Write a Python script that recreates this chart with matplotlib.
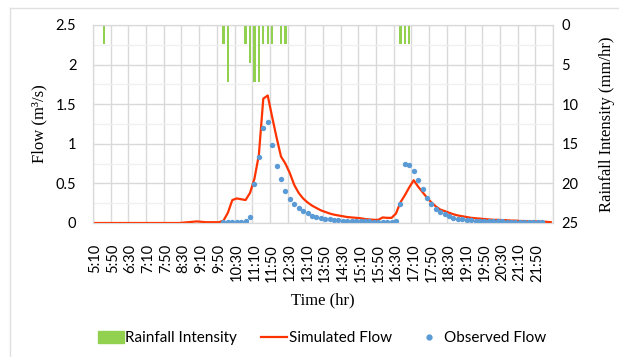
import numpy as np
import matplotlib
matplotlib.use("Agg")
import matplotlib.pyplot as plt
from matplotlib.lines import Line2D
from matplotlib.patches import Patch

# DATA (10 min steps, 5:10 -> 22:20)
tick_labels = ['5:10', '5:50', '6:30', '7:10', '7:50', '8:30', '9:10', '9:50',
               '10:30', '11:10', '11:50', '12:30', '13:10', '13:50', '14:30',
               '15:10', '15:50', '16:30', '17:10', '17:50', '18:30', '19:10',
               '19:50', '20:30', '21:10', '21:50']

simulated = [0] * 20 + [
    0.005, 0.01, 0.015, 0.02, 0.015, 0.01, 0.01, 0.01, 0.01,
    0.03, 0.13, 0.29, 0.31, 0.30, 0.29, 0.38, 0.56, 0.86, 1.57, 1.61,
    1.34, 1.08, 0.84, 0.75, 0.63, 0.48, 0.38, 0.31, 0.26, 0.22,
    0.19, 0.16, 0.14, 0.12, 0.105, 0.095, 0.085, 0.075, 0.07, 0.065,
    0.06, 0.05, 0.045, 0.04, 0.04, 0.07, 0.065, 0.065, 0.12, 0.26,
    0.35, 0.45, 0.54, 0.46, 0.39, 0.32, 0.26, 0.21, 0.17, 0.15,
    0.13, 0.11, 0.095, 0.085, 0.075, 0.065, 0.06, 0.055, 0.05, 0.045,
    0.04, 0.04, 0.035, 0.035, 0.03, 0.03, 0.025, 0.025, 0.02, 0.02,
    0.02, 0.015, 0.015, 0.01]

observed = [None] * 29 + [
    0.01, 0.01, 0.01, 0.015, 0.015, 0.02, 0.08, 0.49, 0.83, 1.20, 1.28,
    0.99, 0.72, 0.55, 0.41, 0.30, 0.24, 0.19, 0.15, 0.12, 0.09,
    0.07, 0.06, 0.05, 0.045, 0.04, 0.035, 0.03, 0.03, 0.025, 0.025,
    0.02, 0.02, 0.02, 0.015, 0.015, 0.01, 0.01, 0.015, 0.03, 0.24,
    0.745, 0.73, 0.66, 0.54, 0.43, 0.32, 0.24, 0.18, 0.14, 0.11,
    0.085, 0.065, 0.055, 0.045, 0.04, 0.035, 0.03, 0.03, 0.025, 0.025,
    0.02, 0.02, 0.02, 0.015, 0.015, 0.015, 0.01, 0.01, 0.01, 0.01,
    0.01, 0.01] + [None] * 2

rainfall = [0] * 104
for idx, val in [(2, 2.4), (29, 2.4), (30, 7.2), (34, 2.4), (35, 4.8),
                 (36, 7.2), (37, 7.2), (38, 2.4), (39, 2.4), (40, 2.4),
                 (42, 2.4), (43, 2.4), (69, 2.4), (70, 2.4), (71, 2.4)]:
    rainfall[idx] = val

# PLOT
sans = ['Lato', 'DejaVu Sans']
serif = ['Liberation Serif', 'DejaVu Serif']
grid_c = '#D9D9D9'
tick_fs = 10.5
title_fs = 12

x = np.arange(len(simulated))
obs = np.array([np.nan if v is None else v for v in observed])

fig = plt.figure(figsize=(6.19, 3.57), dpi=100)
ax = fig.add_axes([93 / 619, 1 - 223 / 357, 460 / 619, 198 / 357])
ax2 = ax.twinx()

ax.set_xlim(-0.5, len(x) - 0.5)
ax.set_ylim(0, 2.5)
ax.set_yticks(np.arange(0, 2.51, 0.5))
ax.set_yticklabels(['0', '0.5', '1', '1.5', '2', '2.5'])
ax.set_yticks(np.arange(0.25, 2.5, 0.5), minor=True)
ax.grid(axis='y', which='major', color=grid_c, lw=1)
ax.grid(axis='y', which='minor', color='#F0F0F0', lw=1)
for xv in np.arange(-0.5, len(x), 4):
    ax.axvline(xv, color=grid_c, lw=1, zorder=0.5)
ax.set_axisbelow(True)
ax.set_xticks(x[::4])
ax.set_xticklabels(tick_labels, rotation=90, family=sans, fontsize=tick_fs)
ax.tick_params(axis='x', length=0, pad=15)
ax.tick_params(axis='y', which='both', length=0, pad=12)
for lab in ax.get_yticklabels():
    lab.set_family(sans)
    lab.set_fontsize(tick_fs)

ax.plot(x, simulated, color='#FF3300', lw=1.6, zorder=3)
ax.scatter(x, obs, s=15, color='#5B9BD5', zorder=4, linewidths=0)

ax2.bar(x, rainfall, width=0.5, color='#92D050', zorder=2)
ax2.set_ylim(25, 0)
ax2.set_yticks(np.arange(0, 26, 5))
ax2.tick_params(axis='y', length=0, pad=6)
for lab in ax2.get_yticklabels():
    lab.set_family(sans)
    lab.set_fontsize(tick_fs)

for a in (ax, ax2):
    for s in a.spines.values():
        s.set_color(grid_c)

ax.set_ylabel('Flow (m³/s)', family=serif, fontsize=title_fs, labelpad=6)
ax2.set_ylabel('Rainfall Intensity (mm/hr)', family=serif, fontsize=title_fs, labelpad=15)
ax.set_xlabel('Time (hr)', family=serif, fontsize=title_fs, labelpad=8)

handles = [Patch(color='#92D050'),
           Line2D([], [], color='#FF3300', lw=1.6),
           Line2D([], [], marker='o', ls='none', color='#5B9BD5', ms=3.5)]
fig.legend(handles, ['Rainfall Intensity', 'Simulated Flow', 'Observed Flow'],
           loc='center', bbox_to_anchor=(0.52, 0.053), ncol=3, frameon=False,
           prop={'family': sans, 'size': 11}, handlelength=1.7,
           handletextpad=0.1, columnspacing=1.6, handleheight=0.8)

# chart border
fig.add_artist(Line2D([10 / 619, 10 / 619], [0, 1 - 8 / 357], color='#E0E0E0', lw=1))
fig.add_artist(Line2D([10 / 619, 1], [1 - 8 / 357, 1 - 8 / 357], color='#E0E0E0', lw=1))

fig.savefig('out.png', dpi=100)
